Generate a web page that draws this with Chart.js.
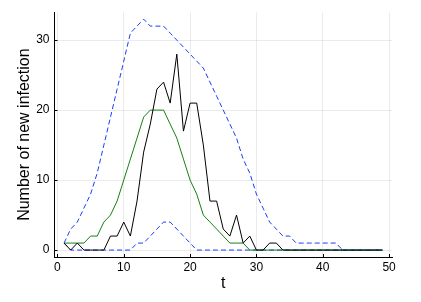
<!DOCTYPE html>
<html>
<head>
<meta charset="utf-8">
<script src="https://cdn.jsdelivr.net/npm/chart.js@4.4.0/dist/chart.umd.min.js"></script>
<style>
  html, body { margin: 0; padding: 0; background: #fff; }
  canvas { display: block; }
</style>
</head>
<body>
<canvas id="infections" width="421" height="302"></canvas>
<script>
const days = [1, 2, 3, 4, 5, 6, 7, 8, 9, 10, 11, 12, 13, 14, 15, 16, 17, 18, 19, 20,
  21, 22, 23, 24, 25, 26, 27, 28, 29, 30, 31, 32, 33, 34, 35, 36, 37, 38, 39, 40,
  41, 42, 43, 44, 45, 46, 47, 48, 49];

const observed = [1, 0, 1, 0, 0, 0, 0, 2, 2, 4, 2, 7, 14, 18, 23, 24, 21, 28, 17, 21,
  21, 15, 7, 7, 3, 2, 5, 1, 2, 0, 0, 1, 1, 0, 0, 0, 0, 0, 0, 0,
  0, 0, 0, 0, 0, 0, 0, 0, 0];

const median = [1, 1, 1, 1, 2, 2, 4, 5, 7, 10, 13, 16, 19, 20, 20, 20, 18, 16, 13, 10,
  8, 5, 4, 3, 2, 1, 1, 1, 0, 0, 0, 0, 0, 0, 0, 0, 0, 0, 0, 0,
  0, 0, 0, 0, 0, 0, 0, 0, 0];

const upper = [1, 3, 4, 6, 8, 11, 15, 19, 23, 27, 31, 32, 33, 32, 32, 32, 31, 30, 29, 28,
  27, 26, 24, 22, 20, 18, 16, 13, 11, 8, 6, 4, 3, 2, 2, 1, 1, 1, 1, 1,
  1, 1, 0, 0, 0, 0, 0, 0, 0];

const lower = [1, 0, 0, 0, 0, 0, 0, 0, 0, 0, 0, 1, 1, 2, 3, 4, 4, 3, 2, 1,
  0, 0, 0, 0, 0, 0, 0, 0, 0, 0, 0, 0, 0, 0, 0, 0, 0, 0, 0, 0,
  0, 0, 0, 0, 0, 0, 0, 0, 0];

const xTicks = [0, 10, 20, 30, 40, 50];
const yTicks = [0, 10, 20, 30];

const toPoints = (vals) => days.map((d, i) => ({ x: d, y: vals[i] }));

const font = "'Liberation Sans', Arial, Helvetica, sans-serif";
const blue = "rgb(25, 60, 255)";

const lineStyle = {
  pointRadius: 0,
  borderWidth: 1,
  tension: 0,
  fill: false,
};

// small tick marks pointing into the plot, like the original
const innerTicks = {
  id: "innerTicks",
  afterDraw(chart) {
    const { ctx, chartArea, scales } = chart;
    ctx.save();
    ctx.strokeStyle = "#000";
    ctx.lineWidth = 1;
    ctx.beginPath();
    xTicks.forEach((v) => {
      const px = Math.round(scales.x.getPixelForValue(v)) + 0.5;
      ctx.moveTo(px, chartArea.bottom);
      ctx.lineTo(px, chartArea.bottom - 3);
    });
    yTicks.forEach((v) => {
      const py = Math.round(scales.y.getPixelForValue(v)) + 0.5;
      ctx.moveTo(chartArea.left, py);
      ctx.lineTo(chartArea.left + 3, py);
    });
    ctx.stroke();
    ctx.restore();
  },
};

const ctx = document.getElementById("infections");

new Chart(ctx, {
  type: "line",
  data: {
    datasets: [
      { ...lineStyle, label: "observed", data: toPoints(observed), borderColor: "#000", order: 0 },
      { ...lineStyle, label: "median", data: toPoints(median), borderColor: "rgb(20, 128, 20)", order: 1 },
      { ...lineStyle, label: "upper", data: toPoints(upper), borderColor: blue, borderDash: [5, 3], order: 2 },
      { ...lineStyle, label: "lower", data: toPoints(lower), borderColor: blue, borderDash: [5, 3], order: 3 },
    ],
  },
  options: {
    responsive: false,
    animation: false,
    layout: { padding: { top: 12, right: 29, left: 0, bottom: 0 } },
    plugins: {
      legend: { display: false },
      tooltip: { enabled: false },
    },
    scales: {
      x: {
        type: "linear",
        min: -0.44,
        max: 50.44,
        afterBuildTicks: (scale) => { scale.ticks = xTicks.map((v) => ({ value: v })); },
        afterFit: (scale) => { scale.height = 45; },
        grid: { color: "rgba(0,0,0,0.08)", drawTicks: false },
        border: { color: "#000", width: 1 },
        ticks: { color: "#000", font: { family: font, size: 12 }, padding: 3, maxRotation: 0 },
        title: { display: true, text: "t", color: "#000", font: { family: font, size: 16 }, padding: { top: 0, bottom: 9 } },
      },
      y: {
        type: "linear",
        min: -0.99,
        max: 33.99,
        afterBuildTicks: (scale) => { scale.ticks = yTicks.map((v) => ({ value: v })); },
        afterFit: (scale) => { scale.width = 54.5; },
        grid: { color: "rgba(0,0,0,0.08)", drawTicks: false },
        border: { color: "#000", width: 1 },
        ticks: { color: "#000", font: { family: font, size: 12 }, padding: 5 },
        title: { display: true, text: "Number of new infection", color: "#000", font: { family: font, size: 16 }, padding: { top: 15, bottom: 0 } },
      },
    },
  },
  plugins: [innerTicks],
});
</script>
</body>
</html>
